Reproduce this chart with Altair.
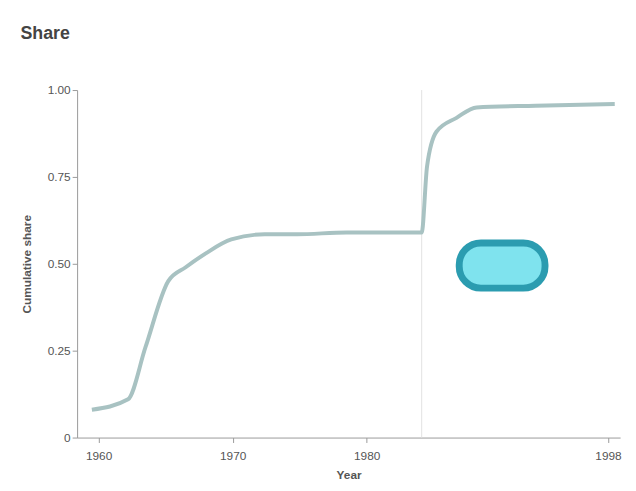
import altair as alt
import pandas as pd

years = [1959.5, 1962.2, 1963.5, 1965.2, 1966.5, 1968.0, 1969.9, 1972.4, 1974.8,
         1978.5, 1983.7, 1984.1, 1984.5, 1985.2, 1986.7, 1988.2, 1992.6, 1998.5]
shares = [0.08, 0.11, 0.26, 0.45, 0.49, 0.53, 0.57, 0.585, 0.585,
          0.59, 0.59, 0.59, 0.78, 0.88, 0.92, 0.95, 0.955, 0.96]

x_ticks = [1960, 1970, 1980, 1998]
y_ticks = [0, 0.25, 0.5, 0.75, 1.0]

note_x = [1986.9, 1993.3]
note_y = [0.43, 0.56]
rule_x = [1984.1]

df = pd.DataFrame({"year": years, "share": shares})
note = pd.DataFrame({"x": [note_x[0]], "x2": [note_x[1]], "y": [note_y[0]], "y2": [note_y[1]]})
rule = pd.DataFrame({"x": rule_x})

xscale = alt.Scale(domain=[1958.4, 1998.9], nice=False, zero=False)
yscale = alt.Scale(domain=[0, 1.0], nice=False)

line = alt.Chart(df).mark_line(color="#a8c2c2", strokeWidth=4, interpolate="monotone").encode(
    x=alt.X("year:Q", scale=xscale, title="Year",
            axis=alt.Axis(values=x_ticks, format="d", grid=False, labelFontSize=12,
                          titleFontSize=12, labelColor="#555", titleColor="#555",
                          labelPadding=8, titlePadding=8,
                          domainColor="#999", tickColor="#999")),
    y=alt.Y("share:Q", scale=yscale, title="Cumulative share",
            axis=alt.Axis(values=y_ticks, grid=False, labelFontSize=12, titleFontSize=12,
                          labelExpr="datum.value == 0 ? '0' : format(datum.value, '.2f')",
                          labelColor="#555", titleColor="#555", titlePadding=14,
                          domainColor="#999", tickColor="#999")),
)

vrule = alt.Chart(rule).mark_rule(color="#e2e2e2", strokeWidth=1).encode(
    x=alt.X("x:Q", scale=xscale)
)

box = alt.Chart(note).mark_rect(
    cornerRadius=22, fill="#7fe3ee", stroke="#2b9cb0", strokeWidth=7
).encode(
    x=alt.X("x:Q", scale=xscale), x2="x2:Q",
    y=alt.Y("y:Q", scale=yscale), y2="y2:Q",
)

chart = (vrule + line + box).properties(
    width=550, height=352,
    padding={"left": 12, "top": 14, "right": 5, "bottom": 5},
    title=alt.TitleParams("Share", anchor="start", fontSize=18, fontWeight="bold",
                          color="#444", offset=42),
).configure_view(stroke=None)

chart.save("out.html", embed_options={"renderer": "svg", "actions": False})
